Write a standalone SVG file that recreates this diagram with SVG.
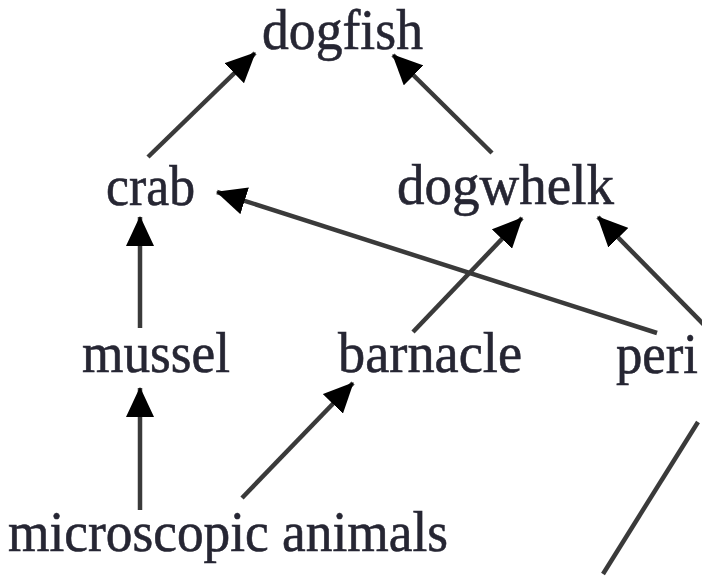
<svg xmlns="http://www.w3.org/2000/svg" width="702" height="576" viewBox="0 0 702 576">
  <style>
    .lbl { font-family: "Liberation Serif", "Times New Roman", serif; font-size: 58px; fill: #262633; stroke: #262633; stroke-width: 0.6; }
    .edge { stroke: #3a3a3a; stroke-width: 4.5; fill: none; marker-end: url(#ah); }
    .plain { stroke: #3a3a3a; stroke-width: 4.5; fill: none; }
  </style>
  <defs>
    <marker id="ah" markerUnits="userSpaceOnUse" markerWidth="30" markerHeight="28" viewBox="0 0 30 28" refX="29" refY="14" orient="auto">
      <path d="M0,0 L30,14 L0,28 z" fill="#000"/>
    </marker>
  </defs>
  <rect width="702" height="576" fill="#fff"/>
  <g id="connectors">
    <line class="edge" x1="148" y1="157" x2="255" y2="53"/>
    <line class="edge" x1="492" y1="153" x2="393" y2="55"/>
    <line class="edge" x1="140" y1="328" x2="140" y2="217"/>
    <line class="edge" x1="657" y1="333" x2="217" y2="192"/>
    <line class="edge" x1="413" y1="332" x2="522" y2="218"/>
    <line class="edge" x1="712" y1="333" x2="598" y2="217"/>
    <line class="edge" x1="140" y1="510" x2="140" y2="388"/>
    <line class="edge" x1="242" y1="498" x2="353" y2="383"/>
    <line class="plain" x1="698" y1="422" x2="603" y2="574"/>
  </g>
  <g id="dogfish"><text class="lbl" x="262" y="49" font-size="52" textLength="161" lengthAdjust="spacingAndGlyphs">dogfish</text></g>
  <g id="crab"><text class="lbl" x="106" y="205" textLength="89" lengthAdjust="spacingAndGlyphs">crab</text></g>
  <g id="dogwhelk"><text class="lbl" x="397" y="204" textLength="217" lengthAdjust="spacingAndGlyphs">dogwhelk</text></g>
  <g id="mussel"><text class="lbl" x="82" y="372" textLength="148" lengthAdjust="spacingAndGlyphs">mussel</text></g>
  <g id="barnacle"><text class="lbl" x="338" y="372" textLength="184" lengthAdjust="spacingAndGlyphs">barnacle</text></g>
  <g id="peri"><text class="lbl" x="616" y="373" textLength="82" lengthAdjust="spacingAndGlyphs">peri</text></g>
  <g id="microscopic-animals"><text class="lbl" x="8" y="551" textLength="440" lengthAdjust="spacingAndGlyphs">microscopic animals</text></g>
</svg>
